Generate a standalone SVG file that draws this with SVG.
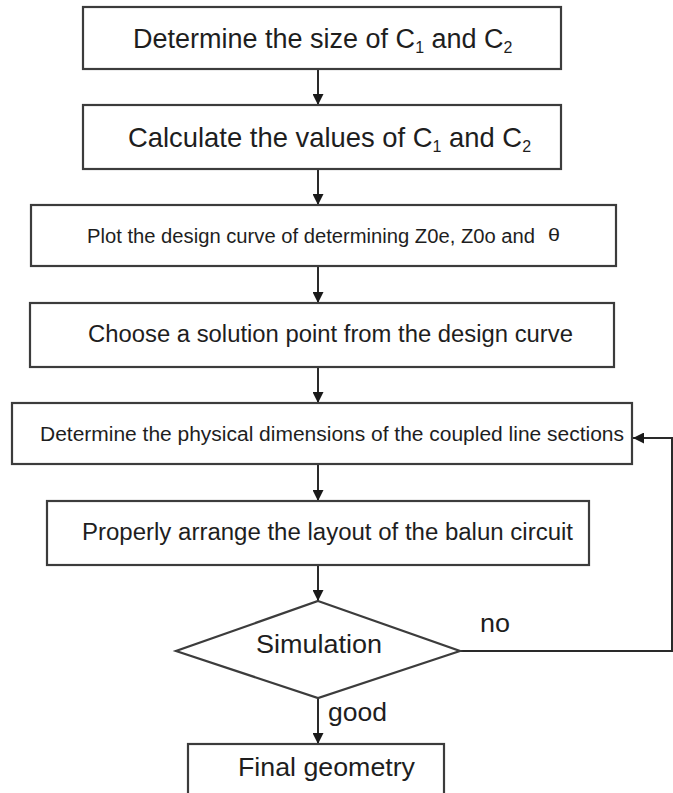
<svg xmlns="http://www.w3.org/2000/svg" width="673" height="793" viewBox="0 0 673 793">
  <style>
    .box { fill: #ffffff; stroke: #3c3c3c; stroke-width: 2.2; }
    .lbl { font-family: "Liberation Sans", Arial, sans-serif; fill: #1e1e1e; }
    .wire { fill: none; stroke: #2a2a2a; stroke-width: 2; }
  </style>
  <defs>
    <marker id="head" viewBox="0 0 10 10" refX="10" refY="5" markerWidth="5.5" markerHeight="5.5" orient="auto" markerUnits="strokeWidth">
      <path d="M0,0 L10,5 L0,10 z" fill="#1a1a1a"/>
    </marker>
  </defs>
  <rect width="673" height="793" fill="#ffffff"/>

  <g id="connectors">
    <line class="wire" x1="318" y1="69" x2="318" y2="105" marker-end="url(#head)"/>
    <line class="wire" x1="318" y1="169" x2="318" y2="205" marker-end="url(#head)"/>
    <line class="wire" x1="318" y1="266" x2="318" y2="303" marker-end="url(#head)"/>
    <line class="wire" x1="318" y1="367" x2="318" y2="403" marker-end="url(#head)"/>
    <line class="wire" x1="318" y1="464" x2="318" y2="501" marker-end="url(#head)"/>
    <line class="wire" x1="318" y1="565" x2="318" y2="601" marker-end="url(#head)"/>
    <line class="wire" x1="318" y1="698" x2="318" y2="744" marker-end="url(#head)"/>
    <polyline class="wire" points="460,651 672,651 672,438 633,438" marker-end="url(#head)"/>
    <text class="lbl" x="480" y="632" font-size="26" textLength="30" lengthAdjust="spacingAndGlyphs">no</text>
    <text class="lbl" x="328" y="721" font-size="26" textLength="59" lengthAdjust="spacingAndGlyphs">good</text>
  </g>

  <g id="size">
    <rect class="box" x="83" y="7" width="478" height="62"/>
    <text class="lbl" x="133" y="48" font-size="27">Determine the size of C<tspan font-size="16" dy="5">1</tspan><tspan dy="-5"> and C</tspan><tspan font-size="16" dy="5">2</tspan></text>
  </g>

  <g id="values">
    <rect class="box" x="83" y="105" width="478" height="64"/>
    <text class="lbl" x="128" y="147" font-size="27.4">Calculate the values of C<tspan font-size="16" dy="5">1</tspan><tspan dy="-5"> and C</tspan><tspan font-size="16" dy="5">2</tspan></text>
  </g>

  <g id="plot">
    <rect class="box" x="31" y="205" width="585" height="61"/>
    <text class="lbl" x="87" y="243" font-size="20" textLength="448" lengthAdjust="spacingAndGlyphs">Plot the design curve of determining Z0e, Z0o and</text>
    <text class="lbl" x="548" y="241" font-size="19" textLength="12" lengthAdjust="spacingAndGlyphs">θ</text>
  </g>

  <g id="choose">
    <rect class="box" x="30" y="303" width="584" height="64"/>
    <text class="lbl" x="88" y="342" font-size="23" textLength="485" lengthAdjust="spacingAndGlyphs">Choose a solution point from the design curve</text>
  </g>

  <g id="dimensions">
    <rect class="box" x="12" y="403" width="620" height="61"/>
    <text class="lbl" x="40" y="441" font-size="20" textLength="584" lengthAdjust="spacingAndGlyphs">Determine the physical dimensions of the coupled line sections</text>
  </g>

  <g id="layout">
    <rect class="box" x="47" y="501" width="542" height="64"/>
    <text class="lbl" x="82" y="540" font-size="23" textLength="491" lengthAdjust="spacingAndGlyphs">Properly arrange the layout of the balun circuit</text>
  </g>

  <g id="simulation">
    <polygon class="box" points="318,601 460,651 318,698 176,651"/>
    <text class="lbl" x="256" y="653" font-size="26" textLength="126" lengthAdjust="spacingAndGlyphs">Simulation</text>
  </g>

  <g id="final">
    <rect class="box" x="188" y="744" width="256" height="60"/>
    <text class="lbl" x="238" y="776" font-size="26" textLength="177" lengthAdjust="spacingAndGlyphs">Final geometry</text>
  </g>
</svg>
